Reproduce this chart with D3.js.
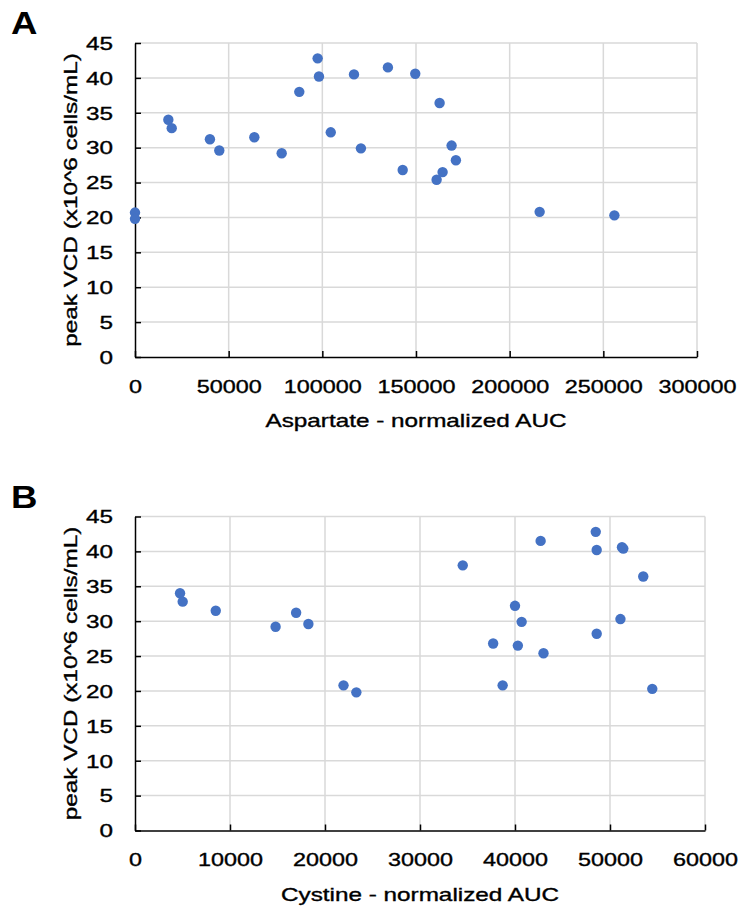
<!DOCTYPE html>
<html>
<head>
<meta charset="utf-8">
<script src="https://cdn.jsdelivr.net/npm/d3@7"></script>
<style>
  body { margin: 0; background: #fff; }
  text { font-family: "Liberation Sans", Arial, sans-serif; fill: #000; }
</style>
</head>
<body>
<div id="chart"></div>
<script>
// peak VCD (x10^6 cells/mL)
const aspartateAUC = [17800, 19600, 40000, 45000, 63700, 78300, 87700, 97500, 98200, 104500, 116900, 120600,
  135000, 149600, 162600, 169000, 171300, 142900, 164200, 161000, 216000, 255900, 0, 0];
const aspartateVCD = [34.0, 32.8, 31.2, 29.6, 31.5, 29.2, 38.0, 42.8, 40.2, 32.2, 40.5, 29.9,
  41.5, 40.6, 36.4, 30.3, 28.2, 26.8, 26.5, 25.4, 20.8, 20.3, 20.7, 19.8];

const cystineAUC = [4740, 5020, 8500, 14800, 16960, 18250, 42700, 48500, 48600, 51260, 51400, 34500,
  53500, 40000, 40700, 51100, 48600, 37700, 40300, 43000, 38700, 54450, 21950, 23300];
const cystineVCD = [34.0, 32.8, 31.5, 29.2, 31.2, 29.6, 41.5, 42.8, 40.2, 40.6, 40.4, 38.0,
  36.4, 32.2, 29.9, 30.3, 28.2, 26.8, 26.5, 25.4, 20.8, 20.3, 20.8, 19.8];

const yTicks = [0, 5, 10, 15, 20, 25, 30, 35, 40, 45];
const aspTicks = [0, 50000, 100000, 150000, 200000, 250000, 300000];
const cysTicks = [0, 10000, 20000, 30000, 40000, 50000, 60000];

const width = 739, height = 907;
const stretch = 1.35; // the original's lettering is wide
const svg = d3.select("#chart").append("svg")
  .attr("width", width)
  .attr("height", height);

function heavy(sel) {
  sel.attr("stroke", "#000").attr("stroke-width", 0.35);
}

function panel(opts) {
  const g = svg.append("g");
  const x = d3.scaleLinear().domain([0, opts.xMax]).range([135, opts.right]);
  const y = d3.scaleLinear().domain([0, 45]).range([opts.bottom, opts.bottom - 314]);

  // grid
  g.append("g").selectAll("line.h")
    .data(yTicks.slice(1))
    .join("line")
    .attr("x1", x(0)).attr("x2", x(opts.xMax))
    .attr("y1", d => y(d)).attr("y2", d => y(d))
    .attr("stroke", "#d9d9d9").attr("stroke-width", 1.5);
  g.append("g").selectAll("line.v")
    .data(opts.ticks.slice(1))
    .join("line")
    .attr("x1", d => x(d)).attr("x2", d => x(d))
    .attr("y1", y(0)).attr("y2", y(45))
    .attr("stroke", "#d9d9d9").attr("stroke-width", 1.5);

  // axes
  const xAxis = d3.axisBottom(x).tickValues(opts.ticks).tickSizeInner(-6).tickSizeOuter(0).tickFormat(d3.format("d"));
  const gx = g.append("g").attr("transform", `translate(0,${y(0)})`).call(xAxis);
  gx.select(".domain").attr("stroke", "#000").attr("stroke-width", 1.5);
  gx.selectAll(".tick line").attr("stroke", "#000").attr("stroke-width", 1.5);
  gx.selectAll(".tick text").attr("dy", null).attr("y", 36)
    .attr("transform", "scale(1.3,1)")
    .style("font-size", "18px").style("font-family", "Liberation Sans, Arial, sans-serif")
    .call(heavy);

  const yAxis = d3.axisLeft(y).tickValues(yTicks).tickSizeInner(-6).tickSizeOuter(0);
  const gy = g.append("g").attr("transform", `translate(${x(0)},0)`).call(yAxis);
  gy.select(".domain").attr("stroke", "#000").attr("stroke-width", 1.5);
  gy.selectAll(".tick line").attr("stroke", "#000").attr("stroke-width", 1.5);
  gy.selectAll(".tick text").attr("x", 0).attr("dy", "0.35em")
    .attr("transform", `translate(-22,0) scale(${stretch},1)`)
    .style("font-size", "18px").style("font-family", "Liberation Sans, Arial, sans-serif")
    .call(heavy);

  // points
  g.append("g").selectAll("circle")
    .data(opts.xs.map((v, i) => [v, opts.ys[i]]))
    .join("circle")
    .attr("cx", d => x(d[0]))
    .attr("cy", d => y(d[1]))
    .attr("r", 5.2)
    .attr("fill", "#4472c4");

  // titles
  g.append("text")
    .attr("transform", `translate(${(x(0) + x(opts.xMax)) / 2},${y(0) + 70}) scale(${stretch},1)`)
    .attr("text-anchor", "middle")
    .style("font-size", "18px")
    .text(opts.xTitle)
    .call(heavy);
  g.append("text")
    .attr("transform", `translate(77,${(y(0) + y(45)) / 2}) rotate(-90) scale(${stretch},1)`)
    .attr("text-anchor", "middle")
    .style("font-size", "18px")
    .text("peak VCD (x10^6 cells/mL)")
    .call(heavy);
  g.append("text")
    .attr("transform", `translate(11,${opts.bottom - 323}) scale(1.18,1)`)
    .style("font-size", "31px")
    .style("font-weight", "bold")
    .text(opts.label);
}

panel({ xs: aspartateAUC, ys: aspartateVCD, xMax: 300000, right: 697, bottom: 357,
  ticks: aspTicks, xTitle: "Aspartate - normalized AUC", label: "A" });
panel({ xs: cystineAUC, ys: cystineVCD, xMax: 60000, right: 705, bottom: 830.5,
  ticks: cysTicks, xTitle: "Cystine - normalized AUC", label: "B" });
</script>
</body>
</html>
